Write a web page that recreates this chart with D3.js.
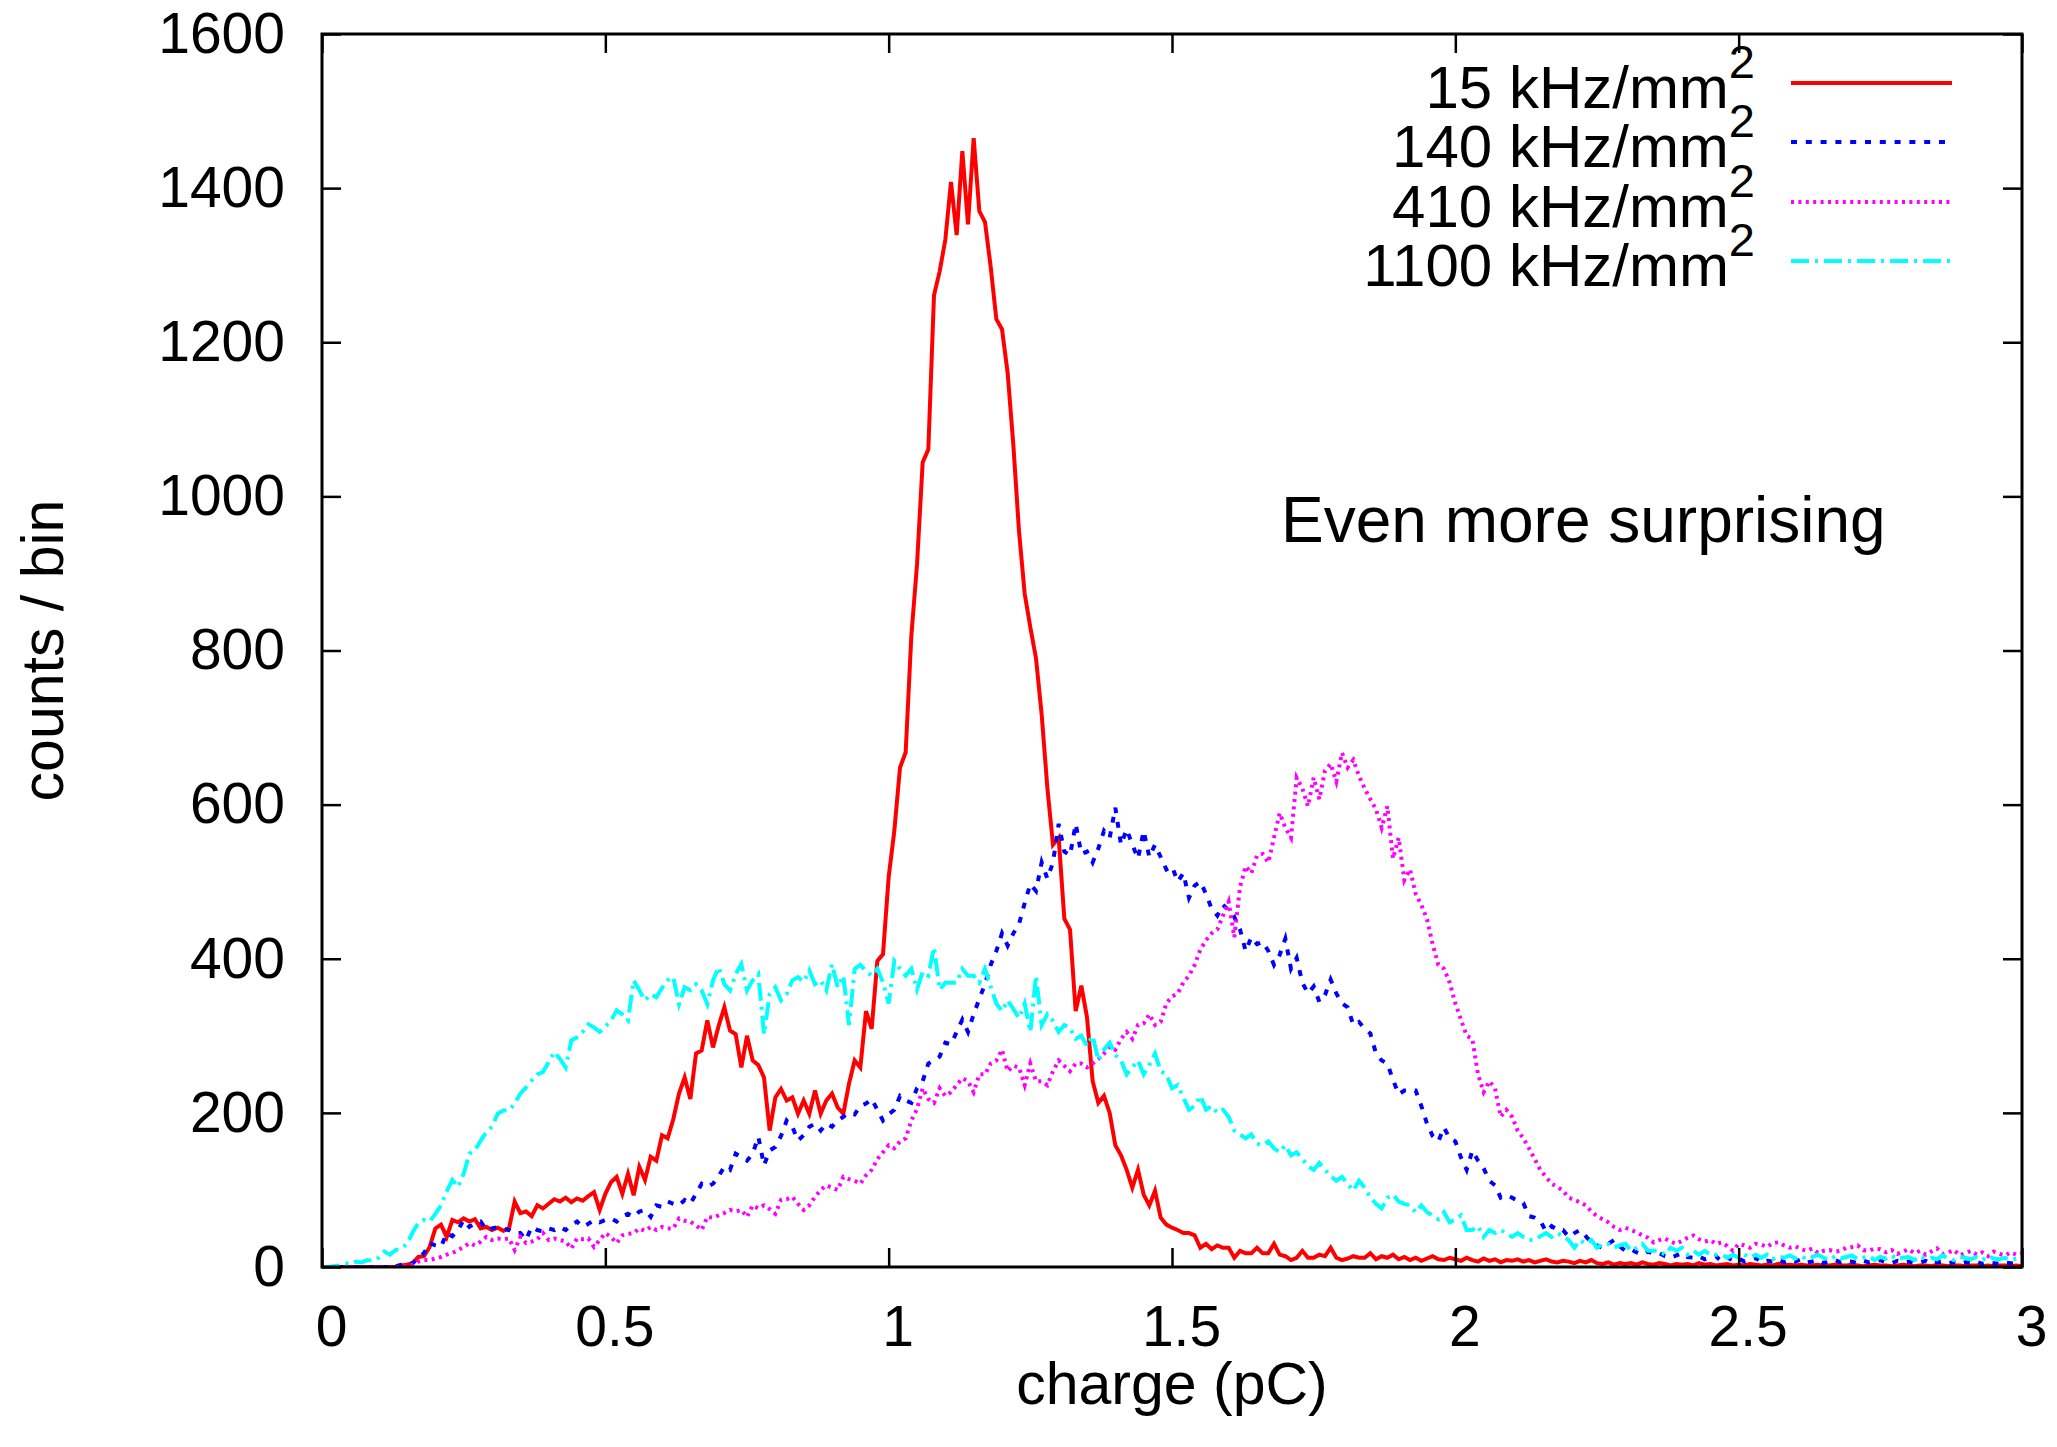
<!DOCTYPE html>
<html><head><meta charset="utf-8">
<script src="https://cdn.jsdelivr.net/npm/d3@7"></script>
<style>
body{margin:0;background:#fff}
svg text{font-family:"Liberation Sans",Arial,Helvetica,sans-serif;fill:#000}
</style>
</head><body>
<svg id="chart" width="2057" height="1447"></svg>
<script>
// histogram bins: first bin centre and bin width (pC)
const binStart = 0, binWidth = 0.01;

const red15 = [
0,0,0,0,0,0,0,0,0,0,
0,0,0,0,2,3,5,13,14,26,
50,55,39,61,58,63,59,62,50,52,
48,51,47,50,85,70,72,66,80,76,
82,88,85,90,84,89,86,92,97,74,
95,110,117,95,121,93,130,113,143,138,
171,167,192,225,246,218,277,281,320,285,
313,337,307,302,259,300,268,262,246,177,
220,231,216,220,199,216,199,229,199,216,
225,207,199,238,268,259,332,309,397,406,
506,566,648,668,819,911,1044,1061,1261,1292,
1333,1408,1339,1448,1353,1465,1370,1356,1298,1230,
1217,1160,1067,955,874,830,790,717,622,548,
557,452,438,332,365,324,241,213,222,200,
158,145,126,103,126,94,80,99,64,55,
51,48,44,44,41,25,30,23,28,25,
25,12,21,18,18,25,18,18,30,16,
14,9,12,21,12,12,16,14,25,12,
9,11,14,12,12,18,10,14,12,16,
10,13,9,12,8,11,14,10,9,12,
10,8,12,9,7,11,8,10,6,9,
8,10,7,9,6,8,10,7,6,8,
7,5,8,6,9,5,4,6,3,5,
4,5,3,6,4,3,5,4,2,4,
3,4,2,5,3,4,2,3,4,2,
3,2,4,3,2,3,2,4,2,3,
2,3,2,2,3,1,2,3,2,2,
3,2,1,2,3,2,2,1,2,3,
2,1,2,2,1,3,2,1,2,2,
1,2,2,1,2,1,2,2,1,2,
1];

const blue140 = [
0,0,0,0,0,0,0,0,0,0,
0,0,0,1,3,3,5,12,18,31,
28,26,44,40,48,61,52,57,59,48,
50,52,50,48,44,44,35,52,48,46,
50,48,52,48,55,59,52,56,61,58,
61,63,59,66,69,65,72,74,65,80,
78,85,82,80,87,82,95,108,104,108,
118,130,126,147,143,138,147,169,132,151,
156,170,190,182,164,171,182,186,177,186,
182,190,195,200,198,209,212,218,204,190,
198,204,222,216,213,232,241,264,268,273,
291,289,305,321,305,328,348,367,392,410,
433,417,433,445,472,497,488,525,504,525,
575,539,534,575,536,539,525,543,566,557,
596,548,568,548,530,566,532,548,532,516,
520,500,511,479,495,500,484,465,456,470,
463,454,438,410,428,419,422,410,392,405,
426,387,401,369,355,364,344,353,373,355,
342,337,314,318,309,303,277,268,264,243,
224,229,229,229,209,186,170,163,181,167,
163,142,126,151,138,128,112,106,90,93,
90,86,83,66,64,60,46,53,48,48,
39,44,48,40,32,28,25,30,35,27,
21,23,19,16,20,17,18,14,12,15,
18,13,12,14,10,12,14,7,12,9,
11,7,9,12,6,8,7,10,6,9,
7,10,6,7,9,5,8,9,6,8,
7,5,8,6,7,9,6,5,8,6,
7,5,6,8,4,6,7,5,6,4,
6,5,7,4,6,5,4,6,5,4,
5];

const magenta410 = [
0,0,0,0,0,0,0,0,0,0,
0,0,0,0,0,1,3,7,9,9,
11,13,16,18,22,26,31,28,33,39,
35,37,36,37,22,39,31,33,36,44,
35,37,35,33,24,37,36,37,26,35,
44,39,31,41,43,44,50,47,52,48,
52,50,50,63,60,59,54,48,65,64,
67,70,74,72,74,65,80,76,80,75,
69,87,88,91,82,74,80,91,100,106,
103,100,117,114,112,108,119,126,140,149,
158,154,163,167,190,205,232,218,213,232,
222,227,236,245,241,227,250,250,264,268,
282,254,261,259,236,264,241,241,236,254,
268,261,254,264,264,259,264,270,277,286,
282,296,305,296,314,316,328,314,318,342,
351,355,369,378,392,412,424,433,438,456,
474,428,493,520,511,534,536,525,557,589,
570,557,635,621,598,635,607,644,653,630,
667,648,658,637,621,607,594,570,598,530,
557,502,516,484,470,451,419,392,387,369,
342,321,300,296,250,227,241,232,195,204,
195,177,167,154,140,126,117,108,104,99,
90,87,84,80,72,66,62,58,52,48,
51,48,45,41,38,32,35,37,33,30,
34,38,41,36,33,35,30,32,27,21,
30,28,25,30,29,26,31,32,28,25,
27,23,21,24,18,21,22,20,21,25,
26,28,22,21,24,23,19,22,17,20,
23,18,21,16,20,24,17,19,22,15,
18,21,16,19,14,20,17,15,19,16,
18];

const cyan1100 = [
0,0,1,2,5,4,7,6,9,8,
12,20,16,22,24,30,45,57,61,59,
69,80,98,113,104,121,147,151,164,175,
182,199,203,203,212,225,233,242,250,253,
266,279,270,259,294,298,305,315,311,305,
312,320,333,328,320,372,359,346,354,350,
362,372,376,341,363,359,367,359,341,372,
389,367,359,380,393,359,372,380,302,354,
363,346,354,372,376,370,385,367,372,359,
393,363,378,314,387,392,384,378,387,369,
342,397,387,378,387,360,383,378,415,360,
369,369,369,387,378,378,369,387,364,342,
332,346,335,323,342,305,378,314,328,319,
305,314,310,296,300,287,300,268,282,291,
275,268,250,259,268,250,262,277,254,250,
232,236,220,204,209,222,204,209,200,204,
195,177,172,167,172,160,158,163,154,149,
158,145,149,140,131,126,135,126,118,112,
117,108,99,112,103,90,82,76,90,94,
85,82,80,71,80,71,67,62,71,58,
62,67,48,48,53,39,48,44,48,44,
39,44,39,35,35,40,44,39,44,40,
35,25,35,30,35,25,30,30,25,28,
30,21,25,30,21,21,21,16,25,21,
25,16,21,16,21,16,16,16,12,16,
12,16,12,16,12,16,10,14,12,15,
11,14,10,13,16,12,9,14,11,13,
15,10,12,14,9,13,11,15,10,12,
13,9,14,11,12,10,15,11,9,13,
12,10,13,9,14,11,10,12,9,11,
12];

const seriesLabels = ["15 kHz/mm", "140 kHz/mm", "410 kHz/mm", "1100 kHz/mm"];
const seriesValues = [red15, blue140, magenta410, cyan1100];
const seriesColors = ["#ff0000", "#0000ff", "#ff00ff", "#00ffff"];
const seriesDash = [null, "6,8.8", "3,4.4", "18,6,3,6"];

const xTicks = [0, 0.5, 1, 1.5, 2, 2.5, 3];
const xTickLabels = ["0", "0.5", "1", "1.5", "2", "2.5", "3"];
const yTicks = [0, 200, 400, 600, 800, 1000, 1200, 1400, 1600];
const yTickLabels = ["0", "200", "400", "600", "800", "1000", "1200", "1400", "1600"];
const xTitle = "charge (pC)";
const yTitle = "counts / bin";
const annotation = "Even more surprising";

const m = {left: 322, right: 2022, top: 34, bottom: 1267};
const svg = d3.select("#chart");

const x = d3.scaleLinear().domain([0, 3]).range([m.left, m.right]);
const y = d3.scaleLinear().domain([0, 1600]).range([m.bottom, m.top]);

svg.append("defs").append("clipPath").attr("id", "clip")
  .append("rect").attr("x", m.left).attr("y", m.top)
  .attr("width", m.right - m.left).attr("height", m.bottom - m.top);

// data lines
const line = d3.line().x(d => x(d[0])).y(d => y(d[1]));
const gLines = svg.append("g").attr("clip-path", "url(#clip)");
seriesValues.forEach((vals, k) => {
  const pts = vals.map((v, i) => [binStart + i * binWidth, v]);
  gLines.append("path").datum(pts)
    .attr("d", line)
    .attr("fill", "none")
    .attr("stroke", seriesColors[k])
    .attr("stroke-width", 4)
    .attr("stroke-linejoin", "miter")
    .attr("stroke-linecap", "butt")
    .attr("stroke-dasharray", seriesDash[k]);
});

// axes (inward ticks, mirrored)
const tickLen = 19;
function styleAxis(g) {
  g.select(".domain").remove();
  g.selectAll(".tick line").attr("stroke", "#000").attr("stroke-width", 2.5);
  g.selectAll(".tick text").attr("font-size", 57).attr("fill", "#000")
    .style("font-family", '"Liberation Sans",Arial,Helvetica,sans-serif');
}
svg.append("g").attr("transform", `translate(0,${m.bottom})`)
  .call(d3.axisBottom(x).tickValues(xTicks).tickSize(-tickLen).tickPadding(39)
    .tickFormat((d, i) => xTickLabels[i]))
  .call(styleAxis)
  .call(g => g.selectAll(".tick text").attr("x", 9));
svg.append("g").attr("transform", `translate(0,${m.top})`)
  .call(d3.axisTop(x).tickValues(xTicks).tickSize(-tickLen).tickFormat(""))
  .call(styleAxis);
svg.append("g").attr("transform", `translate(${m.left},0)`)
  .call(d3.axisLeft(y).tickValues(yTicks).tickSize(-tickLen).tickPadding(37)
    .tickFormat((d, i) => yTickLabels[i]))
  .call(styleAxis);
svg.append("g").attr("transform", `translate(${m.right},0)`)
  .call(d3.axisRight(y).tickValues(yTicks).tickSize(-tickLen).tickFormat(""))
  .call(styleAxis);

// frame
svg.append("rect").attr("x", m.left).attr("y", m.top)
  .attr("width", m.right - m.left).attr("height", m.bottom - m.top)
  .attr("fill", "none").attr("stroke", "#000").attr("stroke-width", 3);

// axis titles
svg.append("text").attr("x", (m.left + m.right) / 2).attr("y", 1404)
  .attr("text-anchor", "middle").attr("font-size", 59).text(xTitle);
svg.append("text").attr("transform", `translate(63,${(m.top + m.bottom) / 2}) rotate(-90)`)
  .attr("text-anchor", "middle").attr("font-size", 59).text(yTitle);

// annotation
svg.append("text").attr("x", 1281).attr("y", 542)
  .attr("font-size", 64).text(annotation);

// legend
const legY = [83, 142, 202, 261];
seriesLabels.forEach((lab, k) => {
  const t = svg.append("text").attr("x", 1755).attr("y", legY[k] + 25)
    .attr("text-anchor", "end").attr("font-size", 60);
  t.append("tspan").text(lab);
  t.append("tspan").attr("font-size", 47).attr("dy", -30).text("2");
  svg.append("line").attr("x1", 1791).attr("x2", 1952)
    .attr("y1", legY[k]).attr("y2", legY[k])
    .attr("stroke", seriesColors[k]).attr("stroke-width", 4)
    .attr("stroke-dasharray", seriesDash[k]);
});
</script>
</body></html>
